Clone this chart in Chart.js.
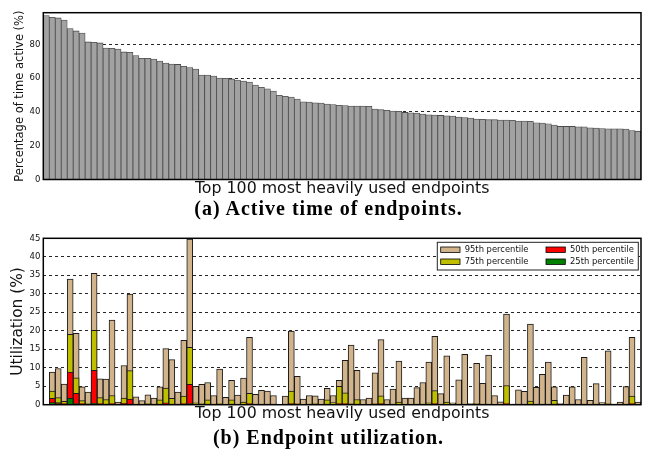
<!DOCTYPE html>
<html>
<head>
<meta charset="utf-8">
<script src="https://cdn.jsdelivr.net/npm/chart.js@4.4.0/dist/chart.umd.min.js"></script>
<style>
  html, body { margin: 0; padding: 0; background: #fff; }
  #wrap { position: relative; width: 657px; height: 456px; overflow: hidden; }
  canvas { position: absolute; left: 0; }
  #cA { top: 0; }
  #cB { top: 225px; }
  .cap { position: absolute; left: 0; width: 657px; text-align: center;
         font-family: "Liberation Serif", serif; font-weight: bold; font-size: 20px;
         letter-spacing: 1px; line-height: 20px; color: #000; white-space: nowrap; }
</style>
</head>
<body>
<div id="wrap">
  <canvas id="cA" width="657" height="200" style="width:657px;height:200px"></canvas>
  <div class="cap" style="top:198px">(a) Active time of endpoints.</div>
  <canvas id="cB" width="657" height="200" style="width:657px;height:200px"></canvas>
  <div class="cap" style="top:427px">(b) Endpoint utilization.</div>
</div>
<script>
// Endpoint ranks (1 = most heavily used)
const endpoints = Array.from({ length: 100 }, (_, i) => String(i + 1));

// (a) share of time each endpoint was active, %
const activeTime = [
  97.0, 96.0, 95.6, 94.4, 89.3, 87.9, 86.7, 81.4, 81.2, 80.8,
  77.8, 77.6, 77.2, 75.5, 75.3, 73.3, 71.7, 71.7, 71.3, 70.1,
  68.9, 68.3, 68.1, 67.0, 66.2, 65.4, 61.8, 61.8, 61.2, 60.0,
  59.9, 59.5, 58.9, 58.3, 57.7, 55.9, 54.5, 53.7, 52.3, 49.8,
  49.2, 48.8, 47.6, 46.0, 45.8, 45.4, 45.2, 44.6, 44.4, 43.9,
  43.7, 43.5, 43.5, 43.5, 43.3, 41.7, 41.3, 40.9, 40.5, 40.3,
  39.7, 39.5, 39.3, 38.7, 38.3, 38.1, 37.9, 37.7, 37.5, 36.9,
  36.7, 36.3, 35.8, 35.6, 35.4, 35.4, 35.2, 35.2, 35.0, 34.6,
  34.6, 34.4, 33.6, 33.4, 33.0, 32.2, 31.4, 31.4, 31.4, 31.2,
  31.2, 30.6, 30.4, 30.2, 30.0, 30.0, 30.0, 29.8, 29.0, 28.6
];

// (b) utilization percentiles per endpoint, %
const util95 = [
  0, 8.8, 9.8, 5.6, 34.0, 19.3, 4.8, 3.4, 35.5, 7.0,
  6.9, 22.9, 0.7, 10.6, 29.9, 2.1, 1.1, 2.7, 1.8, 4.8,
  15.2, 12.2, 3.4, 17.4, 44.8, 5.0, 5.5, 6.0, 2.5, 9.6,
  2.0, 6.6, 2.6, 7.2, 18.2, 2.8, 3.9, 3.7, 2.5, 0,
  2.3, 19.9, 7.7, 1.5, 2.5, 2.4, 1.5, 4.4, 2.5, 6.6,
  12.0, 16.1, 9.3, 1.4, 1.8, 8.6, 17.6, 1.4, 4.2, 11.8,
  1.8, 1.8, 4.6, 6.0, 11.5, 18.5, 3.0, 13.2, 0.5, 6.7,
  13.6, 0.3, 11.2, 5.8, 13.4, 2.5, 0.8, 24.5, 0.2, 4.0,
  3.6, 21.8, 4.7, 8.2, 11.5, 4.8, 0.3, 2.6, 4.8, 1.4,
  12.8, 1.2, 5.7, 0.6, 14.6, 0.2, 0.7, 4.9, 18.2, 0.7
];
const util75 = [
  0, 3.7, 1.9, 0.9, 19.0, 7.3, 1.1, 0.3, 20.1, 1.9,
  1.4, 2.5, 0.2, 1.8, 9.2, 0.2, 0.2, 0.3, 0.2, 1.3,
  4.5, 1.7, 0.2, 2.3, 15.5, 0.5, 0.3, 1.3, 0.2, 0.3,
  0.1, 1.3, 0.2, 0.7, 3.1, 0.2, 0.2, 0.2, 0.2, 0,
  0.2, 3.7, 0.3, 0.1, 0.2, 0.3, 0.1, 1.3, 0.6, 5.0,
  3.2, 0.3, 1.4, 0.1, 0.1, 0.3, 2.4, 0.1, 0.2, 0.7,
  0.1, 0.1, 0.2, 0.2, 0.5, 3.8, 0.2, 0.7, 0.1, 0.2,
  0.2, 0.1, 0.3, 0.2, 0.2, 0.1, 0.1, 5.2, 0.1, 0.2,
  0.2, 1.0, 0.2, 0.2, 0.2, 1.2, 0.1, 0.1, 0.2, 0.1,
  0.2, 0.1, 0.2, 0.1, 0.3, 0.1, 0.1, 0.2, 2.3, 0.1
];
const util50 = [
  0, 1.7, 0.6, 0.3, 8.8, 3.1, 0.3, 0.1, 9.3, 0.3,
  0.2, 0.3, 0.1, 0.4, 1.5, 0, 0, 0.1, 0, 0.2,
  0.5, 0.2, 0, 0.3, 5.5, 0.1, 0.1, 0.2, 0, 0.1,
  0, 0.2, 0, 0.1, 0.3, 0, 0, 0, 0, 0,
  0, 0.3, 0.1, 0, 0, 0.1, 0, 0.2, 0.1, 0.3,
  0.3, 0.1, 0.2, 0, 0, 0.1, 0.3, 0, 0, 0.1,
  0, 0, 0, 0, 0.1, 0.3, 0, 0.1, 0, 0,
  0, 0, 0.1, 0, 0, 0, 0, 0.3, 0, 0,
  0, 0.2, 0, 0, 0, 0.2, 0, 0, 0, 0,
  0, 0, 0, 0, 0.1, 0, 0, 0, 0.3, 0
];
const util25 = [
  0, 0.6, 0.3, 0.1, 1.7, 0.3, 0.1, 0, 0.4, 0.1,
  0.1, 0.1, 0, 0.1, 0.2, 0, 0, 0, 0, 0.1,
  0.1, 0.1, 0, 0.1, 0.3, 0, 0, 0, 0, 0,
  0, 0, 0, 0, 0.1, 0, 0, 0, 0, 0,
  0, 0.1, 0, 0, 0, 0, 0, 0, 0, 0.1,
  0.1, 0, 0, 0, 0, 0, 0.1, 0, 0, 0,
  0, 0, 0, 0, 0, 0.1, 0, 0, 0, 0,
  0, 0, 0, 0, 0, 0, 0, 0.1, 0, 0,
  0, 0, 0, 0, 0, 0, 0, 0, 0, 0,
  0, 0, 0, 0, 0, 0, 0, 0, 0.1, 0
];

const activeTicks = [0, 20, 40, 60, 80];
const utilTicks = [0, 5, 10, 15, 20, 25, 30, 35, 40, 45];

const SANS = "'DejaVu Sans', sans-serif";
const AXIS_LEFT = 43.3;

// black box around the plotting area
const framePlugin = {
  id: 'frame',
  afterDatasetsDraw(chart) {
    const { ctx, chartArea: a } = chart;
    ctx.save();
    ctx.strokeStyle = '#000';
    ctx.lineWidth = 1.5;
    ctx.strokeRect(a.left, a.top, a.right - a.left, a.bottom - a.top);
    ctx.restore();
  }
};

// two-column legend box in the upper right of the plot
const boxLegend = {
  id: 'boxLegend',
  afterDraw(chart) {
    const { ctx, chartArea: a } = chart;
    const ds = chart.data.datasets;
    const right = a.right - 2.7, top = a.top + 4;
    const w = 201, h = 27.7;
    const left = right - w;
    ctx.save();
    ctx.fillStyle = '#fff';
    ctx.fillRect(left, top, w, h);
    ctx.strokeStyle = '#222';
    ctx.lineWidth = 1;
    ctx.strokeRect(left, top, w, h);
    ctx.font = "8.4px " + SANS;
    ctx.textBaseline = 'middle';
    ctx.textAlign = 'left';
    const cols = [left + 3.4, left + 108.7];
    const rows = [top + 7.4, top + 19.4];
    ds.forEach((d, i) => {
      const cx = cols[Math.floor(i / 2)], cy = rows[i % 2];
      ctx.fillStyle = d.backgroundColor;
      ctx.fillRect(cx, cy - 2.7, 19.3, 5.4);
      ctx.strokeStyle = '#000';
      ctx.lineWidth = 0.8;
      ctx.strokeRect(cx, cy - 2.7, 19.3, 5.4);
      ctx.fillStyle = '#111';
      ctx.fillText(d.label, cx + 24, cy);
    });
    ctx.restore();
  }
};

function yAxis(min, max, ticks, title, titleSize, titlePad) {
  return {
    min, max, z: 1,
    afterBuildTicks: s => { s.ticks = ticks.map(v => ({ value: v })); },
    afterFit: s => { s.width = AXIS_LEFT; },
    grid: { color: 'rgba(0,0,0,0.85)', lineWidth: 1, drawTicks: false, tickLength: 0 },
    border: { display: false, dash: [3, 3] },
    ticks: { padding: 3, color: '#111', font: { family: SANS, size: 8.5 } },
    title: { display: true, text: title, color: '#111',
             font: { family: SANS, size: titleSize }, padding: { top: titlePad, bottom: 0 } }
  };
}

function xAxis(height) {
  return {
    ticks: { display: false },
    grid: { display: false, drawTicks: false },
    border: { display: false },
    afterFit: s => { s.height = height; },
    title: { display: true, text: 'Top 100 most heavily used endpoints', color: '#111',
             font: { family: SANS, size: 15.8 }, padding: { top: 0, bottom: 2 } }
  };
}

const common = {
  responsive: false,
  animation: false,
  events: [],
  plugins: { legend: { display: false }, tooltip: { enabled: false } }
};

new Chart(document.getElementById('cA'), {
  type: 'bar',
  data: {
    labels: endpoints,
    datasets: [{
      label: 'Active time',
      data: activeTime,
      backgroundColor: '#a2a2a2',
      borderColor: '#4a4a4a',
      borderWidth: 0.8,
      barPercentage: 1,
      categoryPercentage: 1
    }]
  },
  options: {
    ...common,
    layout: { padding: { left: 0, right: 16, top: 12.7, bottom: 0 } },
    scales: {
      x: xAxis(20.5),
      y: yAxis(0, 98.7, activeTicks, 'Percentage of time active (%)', 11.5, 13)
    }
  },
  plugins: [framePlugin]
});

const pct = (label, data, color, order) => ({
  label, data, order,
  backgroundColor: color,
  borderColor: '#1a1a1a',
  borderWidth: 1,
  grouped: false,
  barPercentage: 1,
  categoryPercentage: 1
});

new Chart(document.getElementById('cB'), {
  type: 'bar',
  data: {
    labels: endpoints,
    datasets: [
      pct('95th percentile', util95, '#d2b48c', 4),
      pct('75th percentile', util75, '#bfbf00', 3),
      pct('50th percentile', util50, '#ff0000', 2),
      pct('25th percentile', util25, '#008000', 1)
    ]
  },
  options: {
    ...common,
    layout: { padding: { left: 0, right: 16, top: 13.3, bottom: 0 } },
    scales: {
      x: xAxis(20.3),
      y: yAxis(0, 45, utilTicks, 'Utilization (%)', 15.4, 8.3)
    }
  },
  plugins: [framePlugin, boxLegend]
});
</script>
</body>
</html>
